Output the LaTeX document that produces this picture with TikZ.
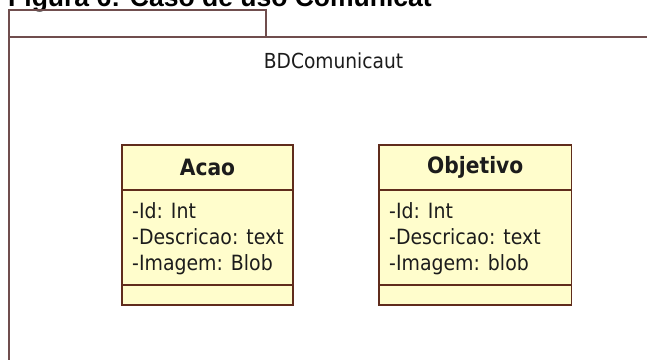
\documentclass[tikz,border=0pt]{standalone}
\usepackage{fontspec}
\setmainfont{DejaVu Sans}[FakeStretch=0.9]
\newfontfamily\capfont{Liberation Sans}
\usetikzlibrary{positioning}

\definecolor{classfill}{RGB}{255,253,204}
\definecolor{classline}{RGB}{96,44,28}
\definecolor{pkgline}{RGB}{112,78,78}
\definecolor{umltext}{RGB}{28,28,28}

\tikzset{
    pkg/.style={draw=pkgline, line width=1.6pt},
    compart/.style={draw=classline, fill=classfill, line width=1.6pt, outer sep=0pt, inner sep=0pt},
    classname/.style={compart, minimum height=45pt, text=umltext, font=\fontsize{22.5}{26}\selectfont\bfseries},
    attrlist/.style={align=left, inner sep=0pt, text=umltext, font=\fontsize{21}{26}\selectfont}
}

\begin{document}
\begin{tikzpicture}[x=1pt, y=-1pt]
\useasboundingbox (0,0) rectangle (647,359);
\clip (0,0) rectangle (647,359);

% caption, cut off at the top
\node[anchor=base west, inner sep=0pt, font=\capfont\bfseries\fontsize{26.5}{30}\selectfont] (caption) at (8,6) {Figura 6: Caso de uso Comunicat};

% package frame with its tab
\draw[pkg] (9,370) -- (9,10) -- (266,10) -- (266,37);
\draw[pkg] (9,37) -- (660,37);
\node[anchor=base, inner sep=0pt, text=umltext, font=\fontsize{20.7}{24}\selectfont] (pkgname) at (333.5,68) {BDComunicaut};

% class Acao
\node[classname, minimum width=171pt] (acao) at (207.5,167.5) {Acao};
\node[compart, minimum width=171pt, minimum height=95pt, below=0pt of acao] (acaoattr) {};
\node[compart, minimum width=171pt, minimum height=20pt, below=0pt of acaoattr] (acaoops) {};
\node[attrlist, anchor=north west] (acaolist) at ([xshift=10pt, yshift=-12pt]acaoattr.north west)
    {-Id: Int\\-Descricao: text\\-Imagem: Blob};

% class Objetivo
\node[classname, minimum width=192.5pt] (objetivo) at (475.25,167.5) {Objetivo};
\node[compart, minimum width=192.5pt, minimum height=95pt, below=0pt of objetivo] (objetivoattr) {};
\node[compart, minimum width=192.5pt, minimum height=20pt, below=0pt of objetivoattr] (objetivoops) {};
\node[attrlist, anchor=north west] (objetivolist) at ([xshift=10pt, yshift=-12pt]objetivoattr.north west)
    {-Id: Int\\-Descricao: text\\-Imagem: blob};
\end{tikzpicture}
\end{document}
